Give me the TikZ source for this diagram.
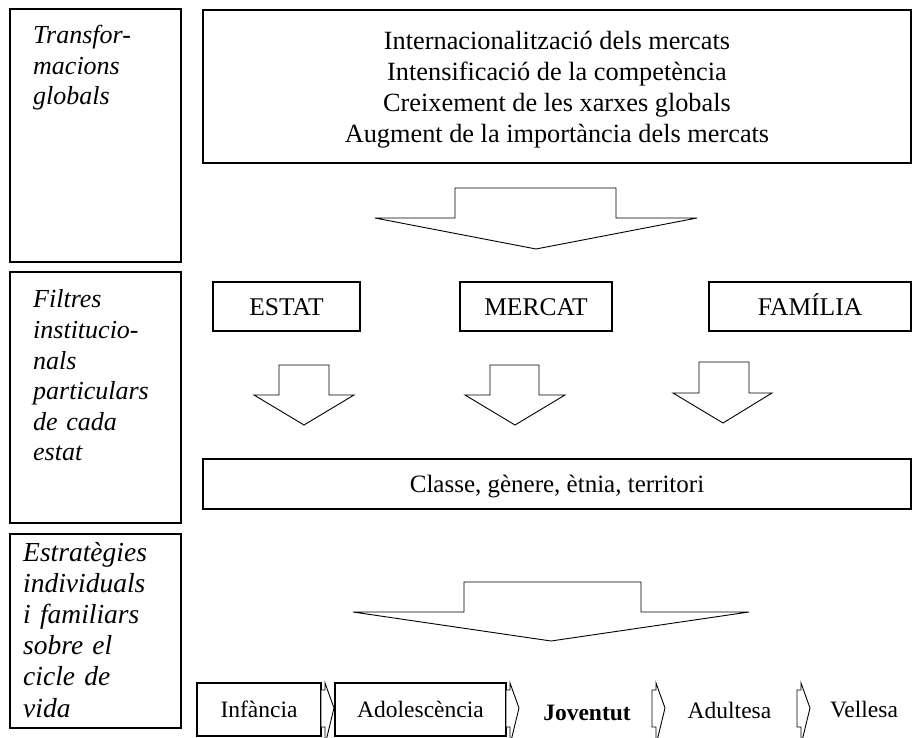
\documentclass[tikz,border=0pt]{standalone}
\usepackage{fontspec}
\setmainfont{Liberation Serif}
\begin{document}
\begin{tikzpicture}[x=1pt,y=-1pt,
  box/.style={draw, line width=1.2pt, inner sep=0pt, outer sep=0pt},
  fixtxt/.style={text height=18pt, text depth=1pt},
  lbl/.style={anchor=base west, align=left, text width=150pt, inner sep=0pt,
    font=\fontsize{26}{30.6}\selectfont\itshape},
  lblb/.style={anchor=base west, align=left, text width=150pt, inner sep=0pt,
    font=\fontsize{27.5}{31.2}\selectfont\itshape},
  toptxtstyle/.style={font=\fontsize{26.3}{31}\selectfont},
  bigtxt/.style={font=\fontsize{25.5}{31}\selectfont},
  midtxt/.style={font=\fontsize{25}{31}\selectfont},
  smalltxt/.style={font=\fontsize{23.5}{28}\selectfont},
  barrow/.style={draw, line width=0.9pt, fill=white, line join=miter},
  chev/.pic={\draw[barrow] (0,19) -- (4,19) -- (4,37) -- (13,0) -- (4,-25) -- (4,-18) -- (0,-18) -- cycle;}
]
\useasboundingbox (0,0) rectangle (916,738);
\clip (0,0) rectangle (916,738);

% left column boxes
\node[box, minimum width=171pt, minimum height=253pt] (lbox1) at (95.5,135.5) {};
\node[box, minimum width=171pt, minimum height=251pt] (lbox2) at (95.5,397.5) {};
\node[box, minimum width=171pt, minimum height=194pt] (lbox3) at (95.5,631) {};
\node[lbl] (lab1) at (33,43.5) {Transfor-\\macions\\globals};
\node[lbl] (lab2) at (33,308) {Filtres\\institucio-\\nals\\particulars\\de cada\\estat};
\node[lblb] (lab3) at (23,561) {Estratègies\\individuals\\i familiars\\sobre el\\cicle de\\vida};

% top box
\node[box, minimum width=708pt, minimum height=153pt] (top) at (557,86.5) {};
\node[toptxtstyle, align=center, inner sep=0pt] (toptxt) at (557,90) {Internacionalització dels mercats\\Intensificació de la competència\\Creixement de les xarxes globals\\Augment de la importància dels mercats};

% big arrow 1
\draw[barrow] (455,188) -- (616,188) -- (616,218) -- (697,218) -- (536,249) -- (375,218) -- (455,218) -- cycle;

% institutions
\node[box, bigtxt, fixtxt, minimum width=147pt, minimum height=49pt] (estat) at (286.5,306.5) {ESTAT};
\node[box, bigtxt, fixtxt, minimum width=152pt, minimum height=49pt] (mercat) at (536,306.5) {MERCAT};
\node[box, bigtxt, fixtxt, minimum width=202pt, minimum height=49pt] (familia) at (810,306.5) {FAMÍLIA};

% small arrows
\draw[barrow] (279,365) -- (329,365) -- (329,395) -- (354,395) -- (304,425) -- (254,395) -- (279,395) -- cycle;
\draw[barrow] (490,365) -- (539,365) -- (539,395) -- (565,395) -- (515,425) -- (465,395) -- (490,395) -- cycle;
\draw[barrow] (699,362) -- (749,362) -- (749,393) -- (772,393) -- (723,423) -- (673,393) -- (699,393) -- cycle;

% classe box
\node[box, midtxt, fixtxt, minimum width=708pt, minimum height=50pt] (classe) at (557,484) {Classe, gènere, ètnia, territori};

% big arrow 2
\draw[barrow] (464,582) -- (641,582) -- (641,612) -- (749,612) -- (551,641) -- (353,612) -- (464,612) -- cycle;

% life cycle row
\node[box, smalltxt, minimum width=124pt, minimum height=53pt] (infancia) at (259,709.5) {Infància};
\node[box, smalltxt, minimum width=171pt, minimum height=53pt] (adol) at (420.5,709.5) {Adolescència};
\node[font=\fontsize{23.5}{28}\selectfont\bfseries, inner sep=0pt] (jov) at (587,713) {Joventut};
\node[smalltxt, inner sep=0pt] (adult) at (729.5,710) {Adultesa};
\node[smalltxt, inner sep=0pt] (vell) at (864,710) {Vellesa};
\pic at (infancia.east |- 0,708) {chev};
\pic at (adol.east |- 0,708) {chev};
\pic at (652,708) {chev};
\pic at (797,708) {chev};
\end{tikzpicture}
\end{document}
